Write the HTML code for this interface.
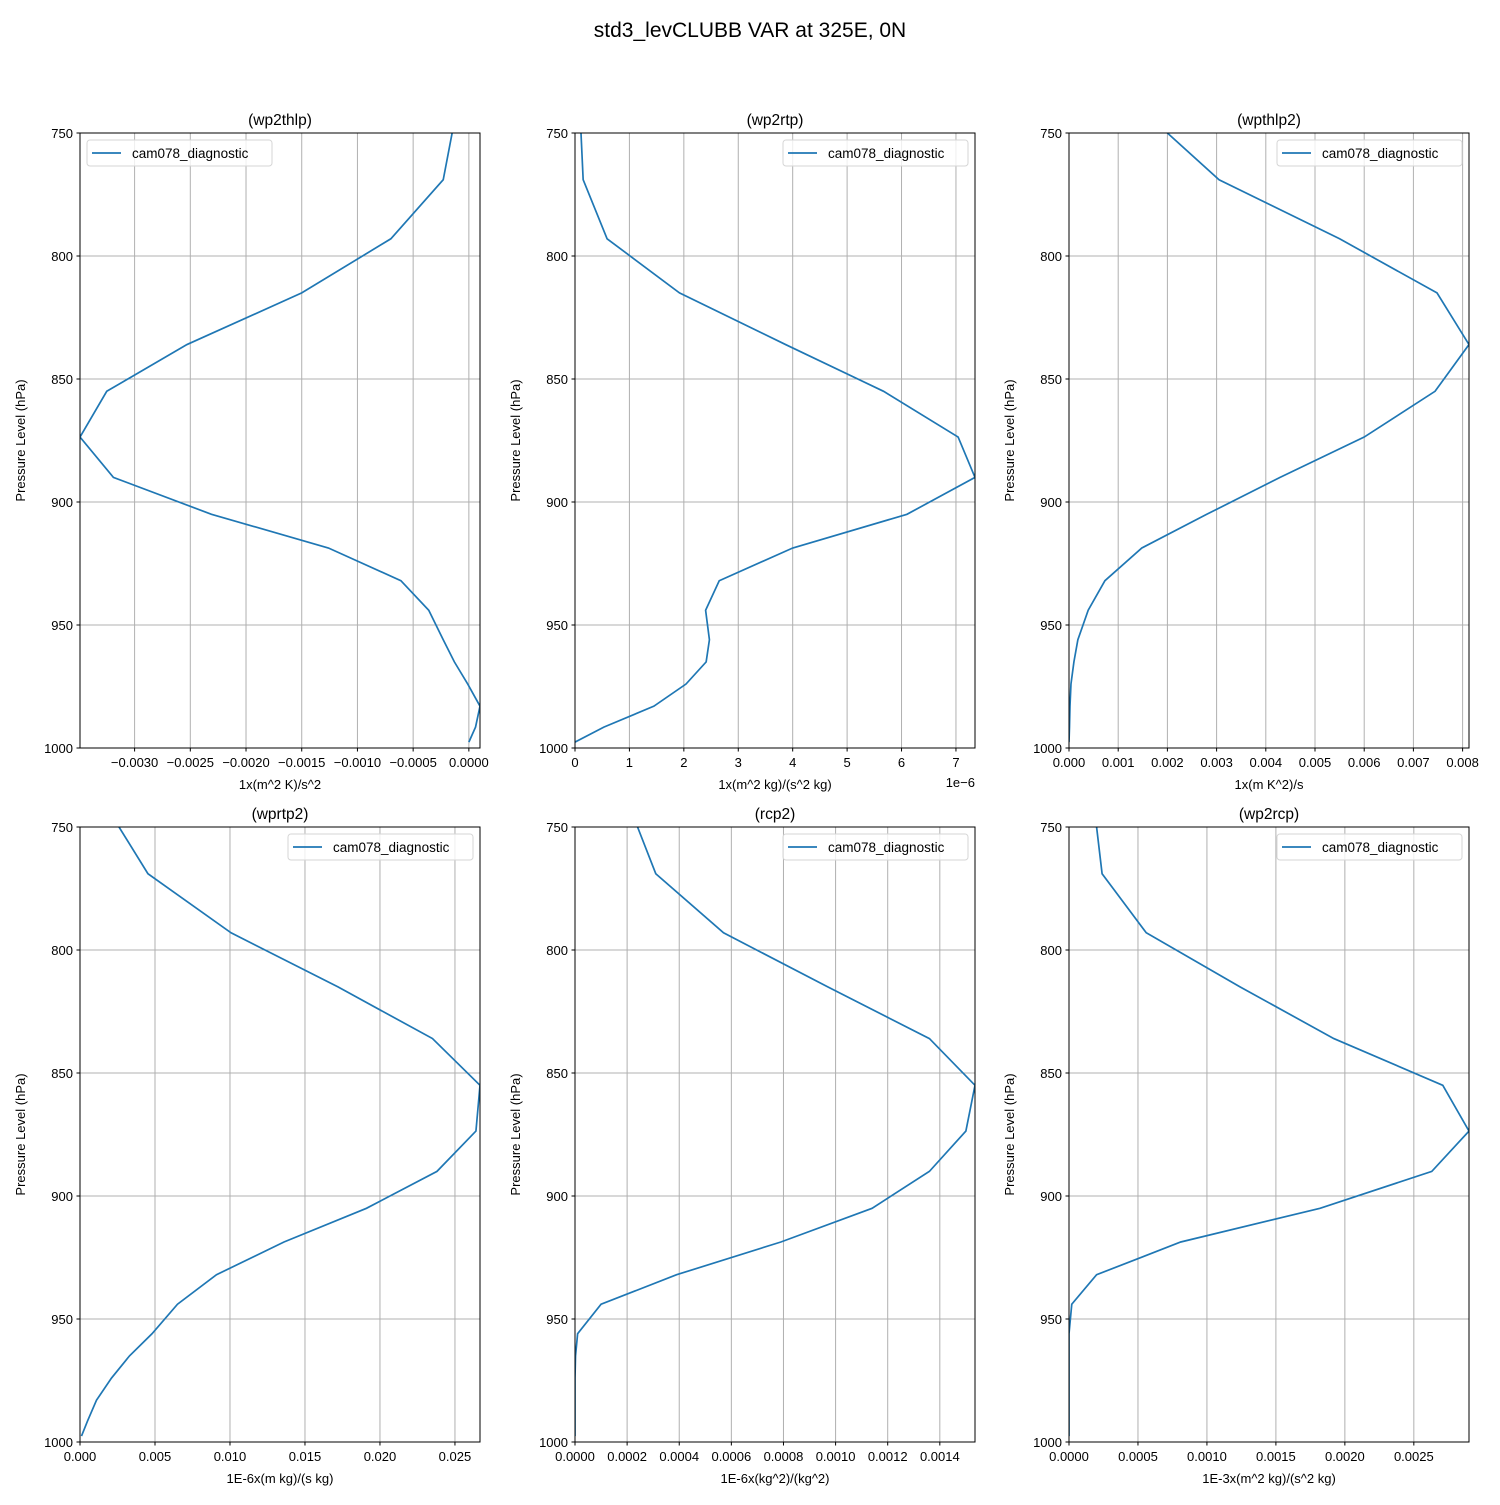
<!DOCTYPE html>
<html><head><meta charset="utf-8"><style>
body{margin:0;background:#fff;}
svg text{font-family:"Liberation Sans","DejaVu Sans",sans-serif;}
</style></head><body>
<svg id="fig" width="1500" height="1500" xmlns="http://www.w3.org/2000/svg">
<rect width="1500" height="1500" fill="#fff"/>
<text x="750" y="37" font-size="21" text-anchor="middle">std3_levCLUBB VAR at 325E, 0N</text>
</svg>
<script>
const levels=[750,769,793,815,836,855,873.6,890,905,918.7,932,944,956,965,974,983,991.5,997.6];
const wp2thlp=[-0.00015,-0.00023,-0.0007,-0.0015,-0.00253,-0.00325,-0.00349,-0.00319,-0.00231,-0.00126,-0.00061,-0.00036,-0.00023,-0.00013,-0.00001,0.0001,0.00006,0];
const wp2rtp=[0.11,0.15,0.59,1.92,3.87,5.67,7.04,7.35,6.1,4.0,2.65,2.4,2.47,2.41,2.04,1.45,0.53,0];
const wpthlp2=[0.002,0.00305,0.0055,0.00748,0.00813,0.00744,0.006,0.00429,0.0028,0.00148,0.00073,0.00039,0.00018,0.0001,0.00004,0.00002,0.00001,0];
const wprtp2=[0.0026,0.00453,0.01007,0.0172,0.0235,0.02667,0.0264,0.0238,0.0191,0.0136,0.0091,0.0065,0.0048,0.0033,0.0021,0.0011,0.0005,0.0001];
const rcp2=[0.00024,0.00031,0.00057,0.00097,0.00136,0.001535,0.0015,0.00136,0.00114,0.00079,0.00039,0.0001,0.00001,0.000002,0,0,0,0];
const wp2rcp=[0.0002,0.00024,0.00056,0.00124,0.00192,0.00271,0.0029,0.00263,0.00182,0.00081,0.0002,0.00002,0,0,0,0,0,0];
const yTicks=[750,800,850,900,950,1000];
const panels=[
 {name:'wp2thlp',title:'(wp2thlp)',data:wp2thlp,x0:80,y0:133,xmin:-0.00349,xmax:0.0001,ticks:[-0.003,-0.0025,-0.002,-0.0015,-0.001,-0.0005,0],fmt:v=>(v<0?'\u2212':'')+Math.abs(v).toFixed(4),xlabel:'1x(m^2 K)/s^2',legLeft:true},
 {name:'wp2rtp',title:'(wp2rtp)',data:wp2rtp,x0:575,y0:133,xmin:0,xmax:7.35,ticks:[0,1,2,3,4,5,6,7],fmt:v=>String(v),xlabel:'1x(m^2 kg)/(s^2 kg)',offset:'1e\u22126'},
 {name:'wpthlp2',title:'(wpthlp2)',data:wpthlp2,x0:1069,y0:133,xmin:0,xmax:0.00813,ticks:[0,0.001,0.002,0.003,0.004,0.005,0.006,0.007,0.008],fmt:v=>v.toFixed(3),xlabel:'1x(m K^2)/s'},
 {name:'wprtp2',title:'(wprtp2)',data:wprtp2,x0:80,y0:827,xmin:0,xmax:0.02667,ticks:[0,0.005,0.01,0.015,0.02,0.025],fmt:v=>v.toFixed(3),xlabel:'1E-6x(m kg)/(s kg)'},
 {name:'rcp2',title:'(rcp2)',data:rcp2,x0:575,y0:827,xmin:0,xmax:0.001535,ticks:[0,0.0002,0.0004,0.0006,0.0008,0.001,0.0012,0.0014],fmt:v=>v.toFixed(4),xlabel:'1E-6x(kg^2)/(kg^2)'},
 {name:'wp2rcp',title:'(wp2rcp)',data:wp2rcp,x0:1069,y0:827,xmin:0,xmax:0.0029,ticks:[0,0.0005,0.001,0.0015,0.002,0.0025],fmt:v=>v.toFixed(4),xlabel:'1E-3x(m^2 kg)/(s^2 kg)'}
];
const NS='http://www.w3.org/2000/svg';
const fig=document.getElementById('fig');
function mk(tag,attrs,parent,txt){const e=document.createElementNS(NS,tag);for(const k in attrs)e.setAttribute(k,attrs[k]);if(txt!==undefined)e.textContent=txt;parent.appendChild(e);return e;}
const W=400,H=615;
panels.forEach((p,pi)=>{
 const g=mk('g',{},fig);
 
 
 const xs=v=>p.x0+(v-p.xmin)/(p.xmax-p.xmin)*W;
 const ys=v=>p.y0+(v-750)/250*H;
 yTicks.forEach(t=>{
  const y=ys(t);
  const gl=mk('line',{x1:p.x0,x2:p.x0+W,y1:y,y2:y,stroke:'#b0b0b0','stroke-width':1},g);
  
  
  mk('line',{x1:p.x0-3.5,x2:p.x0,y1:y,y2:y,stroke:'#000'},g);
  const tl=mk('text',{x:p.x0-7,y:y+5,'font-size':13,'text-anchor':'end'},g,String(t));
  
  
 });
 p.ticks.forEach(t=>{
  const x=xs(t);
  const gl=mk('line',{x1:x,x2:x,y1:p.y0,y2:p.y0+H,stroke:'#b0b0b0','stroke-width':1},g);
  
  
  mk('line',{x1:x,x2:x,y1:p.y0+H,y2:p.y0+H+3.5,stroke:'#000'},g);
  const tl=mk('text',{x:x,y:p.y0+H+19,'font-size':13,'text-anchor':'middle'},g,p.fmt(t));
  
  
 });
 const cid='clip'+pi;
 const cp=mk('clipPath',{id:cid},g);
 mk('rect',{x:p.x0,y:p.y0,width:W,height:H},cp);
 const pts=p.data.map((v,i)=>xs(v).toFixed(2)+','+ys(levels[i]).toFixed(2)).join(' ');
 const pl=mk('polyline',{points:pts,fill:'none',stroke:'#1f77b4','stroke-width':1.7,'clip-path':'url(#'+cid+')'},g);
 
 
 const fr=mk('rect',{x:p.x0,y:p.y0,width:W,height:H,fill:'none',stroke:'#000','stroke-width':1},g);
 
 
 const tt=mk('text',{x:p.x0+W/2,y:p.y0-8,'font-size':15.5,'text-anchor':'middle'},g,p.title);
 
 
 const xl=mk('text',{x:p.x0+W/2,y:p.y0+H+41,'font-size':13,'text-anchor':'middle'},g,p.xlabel);
 
 
 const yl=mk('text',{x:0,y:0,'font-size':13,'text-anchor':'middle',transform:'translate('+(p.x0-55)+','+(p.y0+H/2)+') rotate(-90)'},g,'Pressure Level (hPa)');
 
 
 if(p.offset){
  const ot=mk('text',{x:p.x0+W,y:p.y0+H+39,'font-size':13,'text-anchor':'end'},g,p.offset);
  
  
 }
 const lx=p.legLeft?p.x0+7:p.x0+W-192, ly=p.y0+7;
 const lg=mk('g',{},g);
 
 
 mk('rect',{x:lx,y:ly,width:185,height:26,rx:3,fill:'#fff','fill-opacity':0.8,stroke:'#d6d6d6'},lg);
 mk('line',{x1:lx+5,x2:lx+34,y1:ly+13,y2:ly+13,stroke:'#1f77b4','stroke-width':1.7},lg);
 const le=mk('text',{x:lx+45,y:ly+18,'font-size':13.5},lg,'cam078_diagnostic');
 
 
});
</script>
</body></html>
